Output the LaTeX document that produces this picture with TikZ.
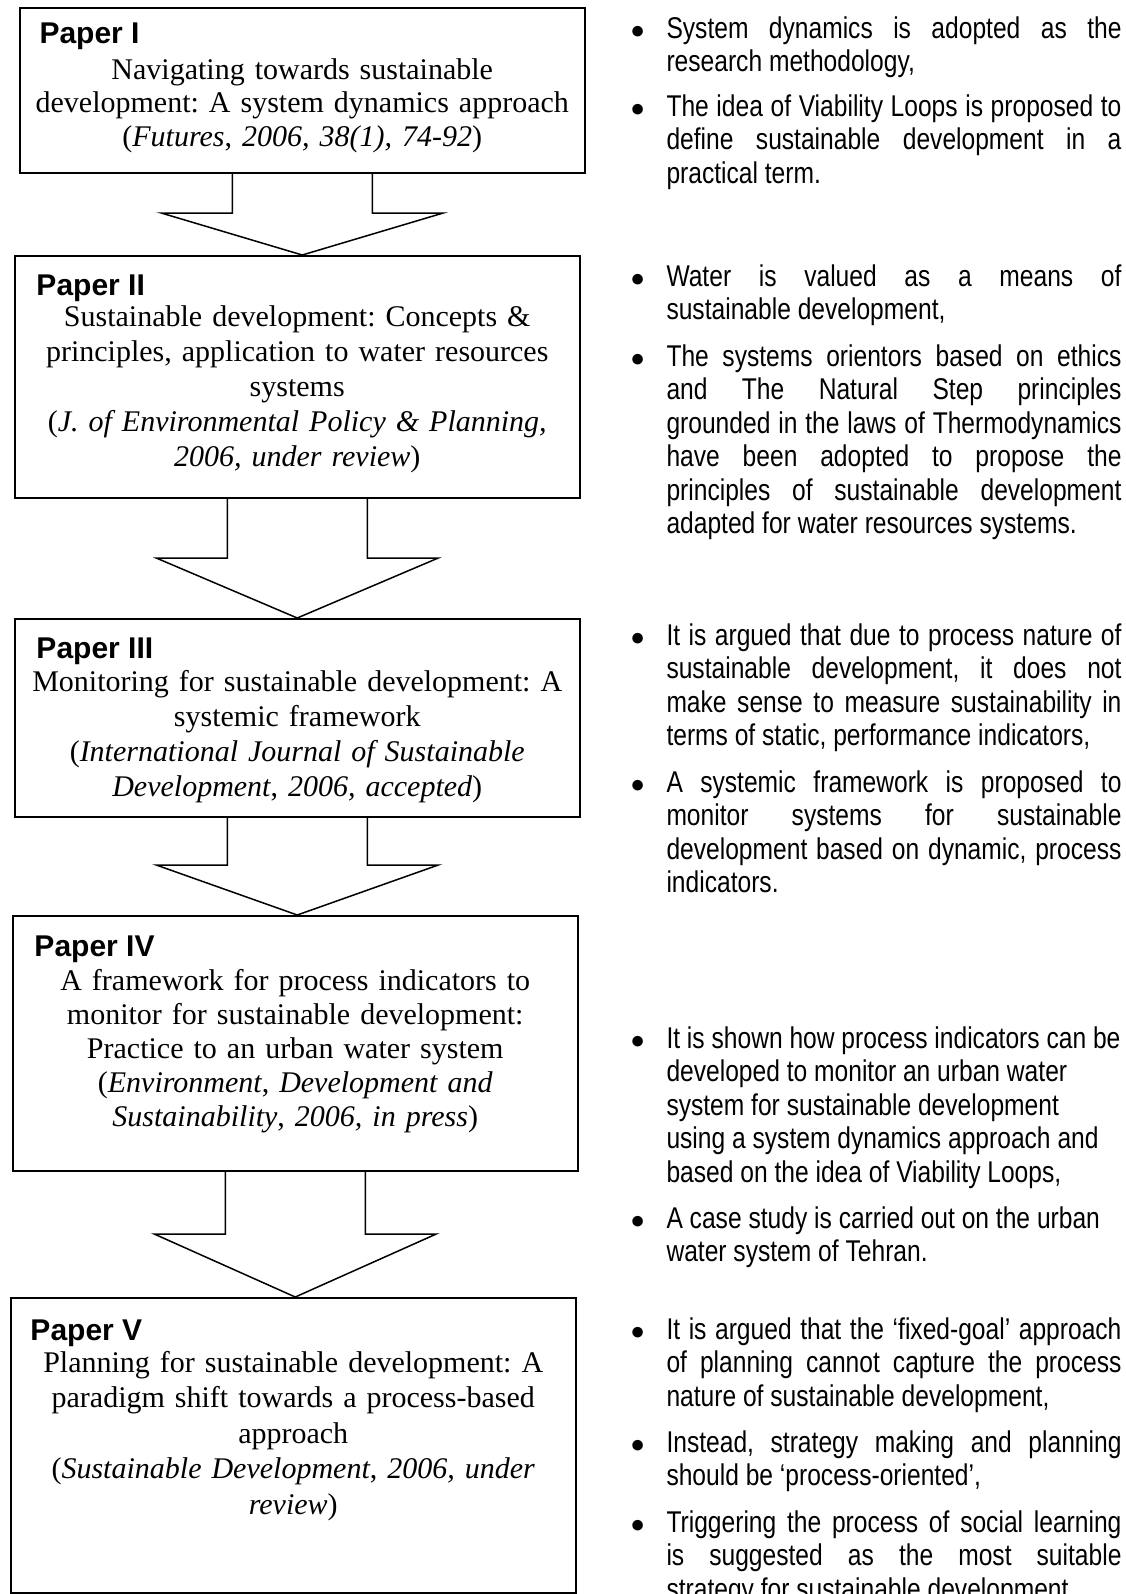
\documentclass[tikz,border=0pt]{standalone}
\usepackage{fontspec}
\setmainfont{Liberation Serif}
\newfontfamily\headfont{Liberation Sans}
\newfontfamily\narrowfont[FakeStretch=0.82]{Liberation Sans}
\usetikzlibrary{calc}
\AtBeginDocument{\frenchspacing}
\newlength\bulw
\setlength\bulw{194pt}
\newcommand\bdot{\hbox to 12pt{\kern-2.3pt\fontsize{11}{11}\selectfont$\bullet$\hss}}
\newcommand\bj[1]{\hbox to \bulw{\kern12pt\relax #1}}
\newcommand\br[1]{\hbox to \bulw{\kern12pt\relax #1\hfil}}
\newcommand\bfj[1]{\hbox to \bulw{\bdot#1}}
\newcommand\bfr[1]{\hbox to \bulw{\bdot#1\hfil}}
\tikzset{
  paperbox/.style={draw, line width=0.6pt, anchor=north west, inner sep=0pt},
  paperhead/.style={anchor=base west, inner sep=0pt, font=\headfont\bfseries\fontsize{12}{14}\selectfont},
  paperbody/.style={anchor=base, inner sep=0pt, text width=224pt, align=center},
  blockarrow/.style={draw, line width=0.6pt, line join=miter},
  bulletitem/.style={anchor=base west, inner sep=0pt, font=\narrowfont\fontsize{12}{13.4}\selectfont},
}
\begin{document}
\begin{tikzpicture}[x=0.4pt, y=-0.4pt]
\useasboundingbox (0,0) rectangle (1126,1594);

% ---- boxes
\node[paperbox, minimum width=226pt, minimum height=66pt] (p1) at (19,7) {};
\node[paperbox, minimum width=226pt, minimum height=96.8pt] (p2) at (14,255) {};
\node[paperbox, minimum width=226pt, minimum height=79.2pt] (p3) at (14,618) {};
\node[paperbox, minimum width=226pt, minimum height=102pt] (p4) at (12,915) {};
\node[paperbox, minimum width=226pt, minimum height=118pt] (p5) at (10,1297) {};

% ---- headings
\node[paperhead] (h1) at ($(p1.north west)+(20,36)$) {Paper I};
\node[paperhead] (h2) at ($(p2.north west)+(22,40)$) {Paper II};
\node[paperhead] (h3) at ($(p3.north west)+(22,40)$) {Paper III};
\node[paperhead] (h4) at ($(p4.north west)+(22,41)$) {Paper IV};
\node[paperhead] (h5) at ($(p5.north west)+(20,43)$) {Paper V};

% ---- bodies
\node[paperbody, font=\fontsize{12}{13.4}\selectfont] (t1) at ($(p1.north)+(0,72)$)
  {Navigating towards sustainable\\development: A system dynamics approach\\(\textit{Futures}, \textit{2006, 38(1), 74-92})};
\node[paperbody, font=\fontsize{12}{14}\selectfont] (t2) at ($(p2.north)+(0,71)$)
  {Sustainable development: Concepts \&\\principles, application to water resources\\systems\\(\textit{J. of Environmental Policy \& Planning,}\\\textit{2006, under review})};
\node[paperbody, font=\fontsize{12}{14}\selectfont] (t3) at ($(p3.north)+(0,73)$)
  {Monitoring for sustainable development: A\\systemic framework\\(\textit{International Journal of Sustainable}\\\textit{Development}, \textit{2006, accepted})};
\node[paperbody, font=\fontsize{12}{13.6}\selectfont] (t4) at ($(p4.north)+(0,75)$)
  {A framework for process indicators to\\monitor for sustainable development:\\Practice to an urban water system\\(\textit{Environment}, \textit{Development and}\\\textit{Sustainability}, \textit{2006, in press})};
\node[paperbody, font=\fontsize{12}{14.2}\selectfont] (t5) at ($(p5.north)+(0,75)$)
  {Planning for sustainable development: A\\paradigm shift towards a process-based\\approach\\(\textit{Sustainable Development}, \textit{2006, under}\\\textit{review})};

% ---- block arrows
\coordinate (tip1) at (p1.south |- p2.north);
\coordinate (tip2) at (p2.south |- p3.north);
\coordinate (tip3) at (p3.south |- p4.north);
\coordinate (tip4) at (p4.south |- p5.north);
\draw[blockarrow] ($(p1.south)+(-70,0)$) |- ($(tip1)+(-141,-42)$) -- (tip1) -- ($(tip1)+(141,-42)$) -| ($(p1.south)+(70,0)$);
\draw[blockarrow] ($(p2.south)+(-70,0)$) |- ($(tip2)+(-141,-60)$) -- (tip2) -- ($(tip2)+(141,-60)$) -| ($(p2.south)+(70,0)$);
\draw[blockarrow] ($(p3.south)+(-70,0)$) |- ($(tip3)+(-141,-50)$) -- (tip3) -- ($(tip3)+(141,-50)$) -| ($(p3.south)+(70,0)$);
\draw[blockarrow] ($(p4.south)+(-70,0)$) |- ($(tip4)+(-141,-63)$) -- (tip4) -- ($(tip4)+(141,-63)$) -| ($(p4.south)+(70,0)$);

% ---- bullet texts
\node[bulletitem] (b1) at (636,38) {\vtop{\bfj{System dynamics is adopted as the}\br{research methodology,}}};
\node[bulletitem] (b2) at (636,116) {\vtop{\bfj{The idea of Viability Loops is proposed to}\bj{define sustainable development in a}\br{practical term.}}};
\node[bulletitem] (b3) at (636,286) {\vtop{\bfj{Water is valued as a means of}\br{sustainable development,}}};
\node[bulletitem] (b4) at (636,366) {\vtop{\bfj{The systems orientors based on ethics}\bj{and The Natural Step principles}\bj{grounded in the laws of Thermodynamics}\bj{have been adopted to propose the}\bj{principles of sustainable development}\br{adapted for water resources systems.}}};
\node[bulletitem] (b5) at (636,645) {\vtop{\bfj{It is argued that due to process nature of}\bj{sustainable development, it does not}\bj{make sense to measure sustainability in}\br{terms of static, performance indicators,}}};
\node[bulletitem] (b6) at (636,792) {\vtop{\bfj{A systemic framework is proposed to}\bj{monitor systems for sustainable}\bj{development based on dynamic, process}\br{indicators.}}};
\node[bulletitem] (b7) at (636,1048) {\vtop{\bfr{It is shown how process indicators can be}\br{developed to monitor an urban water}\br{system for sustainable development}\br{using a system dynamics approach and}\br{based on the idea of Viability Loops,}}};
\node[bulletitem] (b8) at (636,1228) {\vtop{\bfr{A case study is carried out on the urban}\br{water system of Tehran.}}};
\node[bulletitem] (b9) at (636,1339) {\vtop{\bfj{It is argued that the ‘fixed-goal’ approach}\bj{of planning cannot capture the process}\br{nature of sustainable development,}}};
\node[bulletitem] (b10) at (636,1452) {\vtop{\bfj{Instead, strategy making and planning}\br{should be ‘process-oriented’,}}};
\node[bulletitem] (b11) at (636,1532) {\vtop{\bfj{Triggering the process of social learning}\bj{is suggested as the most suitable}\br{strategy for sustainable development.}}};
\end{tikzpicture}
\end{document}
